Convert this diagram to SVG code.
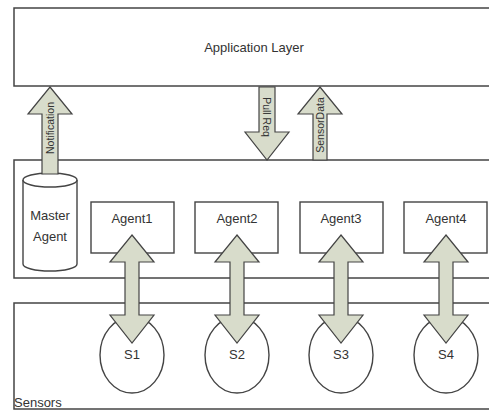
<svg xmlns="http://www.w3.org/2000/svg" width="489" height="412" viewBox="0 0 489 412">
<style>
.layer{fill:#fff;stroke:#444;stroke-width:1.5}
.box{fill:#fff;stroke:#444;stroke-width:1.4}
.arr{fill:#d8dccb;stroke:#444;stroke-width:1.2;stroke-linejoin:miter}
.t{font-family:"Liberation Sans",Arial,sans-serif;fill:#333;font-size:13px;text-anchor:middle}
.s{font-family:"Liberation Sans",Arial,sans-serif;fill:#333;font-size:10.5px;text-anchor:middle;dominant-baseline:central}
</style>
<rect width="489" height="412" fill="#fff"/>
<g id="application-layer">
<rect class="layer" x="14" y="8" width="490" height="78"/>
<text class="t" x="254" y="52" font-size="13.5">Application Layer</text>
</g>
<g id="agent-layer">
<rect class="layer" x="14" y="160" width="490" height="118"/>
</g>
<g id="sensors-layer">
<rect class="layer" x="14" y="303" width="490" height="106"/>
<text class="t" x="14" y="407" style="text-anchor:start">Sensors</text>
</g>
<g id="master-agent">
<path class="box" d="M23,180 L23,264 A27,7 0 0 0 77,264 L77,180"/>
<ellipse class="box" cx="50" cy="180" rx="27" ry="7"/>
<text class="t" x="50" y="220">Master</text>
<text class="t" x="50" y="241">Agent</text>
</g>
<g id="agent1"><rect class="box" x="91" y="202" width="83" height="51"/><text class="t" x="132" y="223">Agent1</text></g>
<g id="agent2"><rect class="box" x="195" y="202" width="83" height="51"/><text class="t" x="237" y="223">Agent2</text></g>
<g id="agent3"><rect class="box" x="300" y="202" width="83" height="51"/><text class="t" x="341" y="223">Agent3</text></g>
<g id="agent4"><rect class="box" x="404" y="202" width="83" height="51"/><text class="t" x="446" y="223">Agent4</text></g>
<g id="s1"><ellipse class="box" cx="132" cy="355" rx="32" ry="38"/><text class="t" x="132" y="359">S1</text></g>
<g id="s2"><ellipse class="box" cx="237" cy="355" rx="32" ry="38"/><text class="t" x="237" y="359">S2</text></g>
<g id="s3"><ellipse class="box" cx="341" cy="355" rx="32" ry="38"/><text class="t" x="341" y="359">S3</text></g>
<g id="s4"><ellipse class="box" cx="446" cy="355" rx="32" ry="38"/><text class="t" x="446" y="359">S4</text></g>
<g id="connectors">
<path class="arr" d="M50,87 L72,114 L58,114 L58,174 L42,174 L42,114 L28,114 Z"/>
<text class="s" transform="translate(50,128) rotate(-90)">Notification</text>
<path class="arr" d="M259,87 L275,87 L275,132 L289,132 L267,160 L245,132 L259,132 Z"/>
<text class="s" transform="translate(267,117) rotate(90)">Pull Req</text>
<path class="arr" d="M320,87 L342,114 L327,114 L327,160 L313,160 L313,114 L298,114 Z"/>
<text class="s" transform="translate(320,125) rotate(-90)">SensorData</text>
<path class="arr" d="M132,235 L154,262 L139,262 L139,315 L154,315 L132,343 L110,315 L125,315 L125,262 L110,262 Z"/>
<path class="arr" d="M237,235 L259,262 L244,262 L244,315 L259,315 L237,343 L215,315 L230,315 L230,262 L215,262 Z"/>
<path class="arr" d="M341,235 L363,262 L348,262 L348,315 L363,315 L341,343 L319,315 L334,315 L334,262 L319,262 Z"/>
<path class="arr" d="M446,235 L468,262 L453,262 L453,315 L468,315 L446,343 L424,315 L439,315 L439,262 L424,262 Z"/>
</g>
</svg>
